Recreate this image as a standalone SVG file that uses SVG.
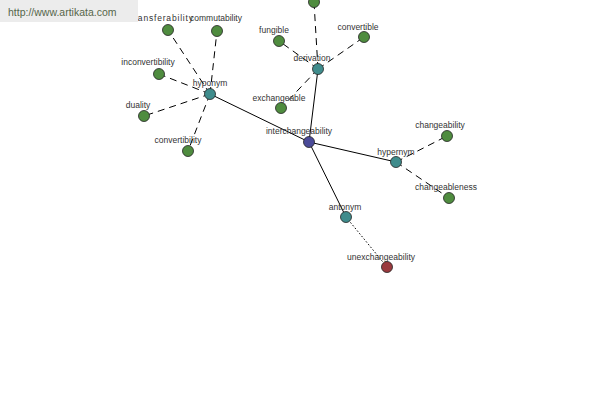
<svg xmlns="http://www.w3.org/2000/svg" width="600" height="400" viewBox="0 0 600 400">
<style>
.e{stroke:#000;stroke-width:1;fill:none}
.d{stroke-dasharray:7,5}
.o{stroke-dasharray:1.5,2}
.n{stroke:#222;stroke-width:0.8}
.g{fill:#4f8c3f}
.t{fill:#3f8c8c}
.c{fill:#4a4a98}
.r{fill:#9a3a3e}
text{font-family:"Liberation Sans",Arial,sans-serif;font-size:8.5px;fill:#333;text-anchor:middle}
</style>
<rect width="600" height="400" fill="#fff"/>
<g id="connectors">
<line class="e" x1="309" y1="142" x2="210" y2="94"/>
<line class="e" x1="309" y1="142" x2="318" y2="69"/>
<line class="e" x1="309" y1="142" x2="396" y2="162"/>
<line class="e" x1="309" y1="142" x2="346" y2="217"/>
<line class="e d" x1="210" y1="94" x2="168" y2="30"/>
<line class="e d" x1="210" y1="94" x2="217" y2="31"/>
<line class="e d" x1="210" y1="94" x2="159" y2="74"/>
<line class="e d" x1="210" y1="94" x2="144" y2="116"/>
<line class="e d" x1="210" y1="94" x2="188" y2="151"/>
<line class="e d" x1="318" y1="69" x2="279" y2="41"/>
<line class="e d" x1="318" y1="69" x2="364" y2="37"/>
<line class="e d" x1="318" y1="69" x2="281" y2="108"/>
<line class="e d" x1="318" y1="69" x2="314" y2="2"/>
<line class="e d" x1="396" y1="162" x2="447" y2="136"/>
<line class="e d" x1="396" y1="162" x2="449" y2="198"/>
<line class="e o" x1="346" y1="217" x2="387" y2="267"/>
</g>
<g id="interchangeability"><circle class="n c" cx="309" cy="142" r="5.5"/><text x="299" y="134">interchangeability</text></g>
<g id="hyponym"><circle class="n t" cx="210" cy="94" r="5.5"/><text x="210" y="86">hyponym</text></g>
<g id="derivation"><circle class="n t" cx="318" cy="69" r="5.5"/><text x="312" y="61">derivation</text></g>
<g id="hypernym"><circle class="n t" cx="396" cy="162" r="5.5"/><text x="396" y="155">hypernym</text></g>
<g id="antonym"><circle class="n t" cx="346" cy="217" r="5.5"/><text x="345" y="210">antonym</text></g>
<g id="unexchangeability"><circle class="n r" cx="387" cy="267" r="5.5"/><text x="381" y="260">unexchangeability</text></g>
<g id="transferability"><circle class="n g" cx="168" cy="30" r="5.5"/><text x="162" y="21" textLength="62">transferability</text></g>
<g id="commutability"><circle class="n g" cx="217" cy="31" r="5.5"/><text x="216" y="21">commutability</text></g>
<g id="inconvertibility"><circle class="n g" cx="159" cy="74" r="5.5"/><text x="148" y="65">inconvertibility</text></g>
<g id="duality"><circle class="n g" cx="144" cy="116" r="5.5"/><text x="138" y="108">duality</text></g>
<g id="convertibility"><circle class="n g" cx="188" cy="151" r="5.5"/><text x="178" y="143">convertibility</text></g>
<g id="fungible"><circle class="n g" cx="279" cy="41" r="5.5"/><text x="274" y="33">fungible</text></g>
<g id="convertible"><circle class="n g" cx="364" cy="37" r="5.5"/><text x="358" y="30">convertible</text></g>
<g id="exchangeable"><circle class="n g" cx="281" cy="108" r="5.5"/><text x="279" y="101">exchangeable</text></g>
<g id="top-node"><circle class="n g" cx="314" cy="2" r="5.5"/></g>
<g id="changeability"><circle class="n g" cx="447" cy="136" r="5.5"/><text x="440" y="128">changeability</text></g>
<g id="changeableness"><circle class="n g" cx="449" cy="198" r="5.5"/><text x="446" y="190">changeableness</text></g>
<g id="watermark"><rect x="0" y="0" width="138" height="22" fill="#ececec"/><text x="8" y="16" style="font-size:10.5px;fill:#56664a;text-anchor:start">http://www.artikata.com</text></g>
</svg>
